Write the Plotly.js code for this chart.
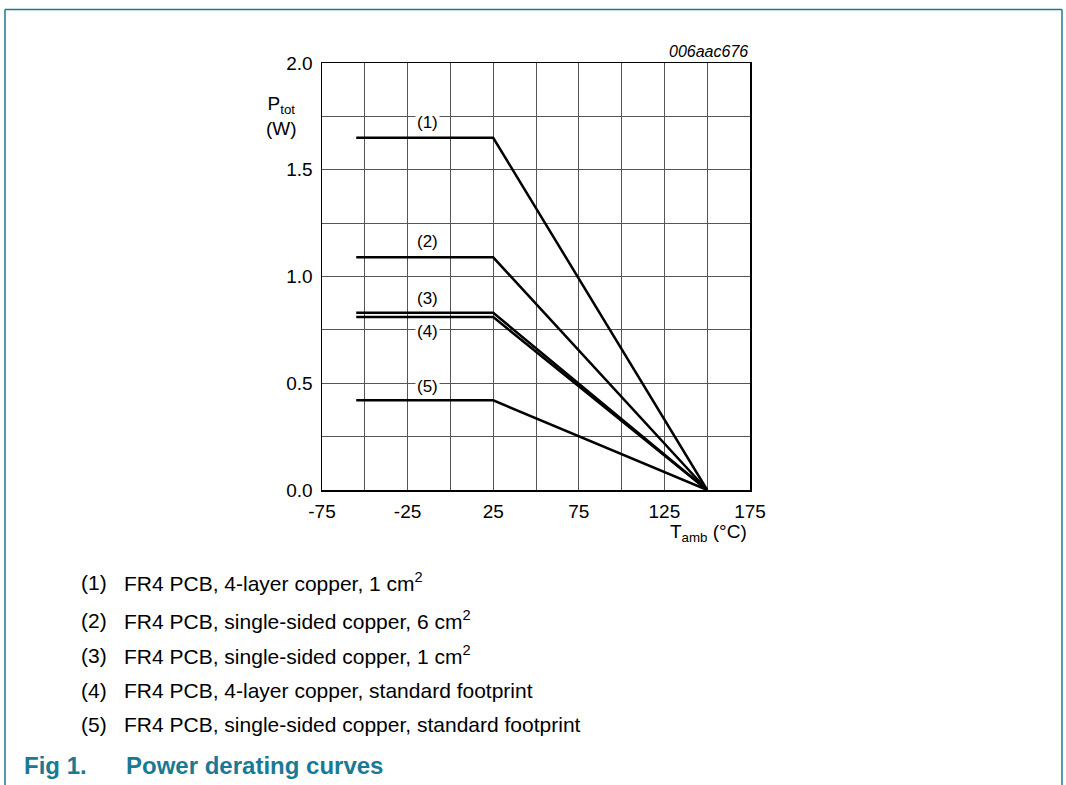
<!DOCTYPE html>
<html><head><meta charset="utf-8">
<script src="https://cdn.plot.ly/plotly-3.0.1.min.js"></script>
<style>html,body{margin:0;padding:0;background:#fff;}#chart{width:1066px;height:785px;}</style>
</head><body><div id="chart"></div>
<script>
// Data
const curveLabels = ['(1)', '(2)', '(3)', '(4)', '(5)'];
const curveTemps = [-55, 25, 150];
const curve1 = [1.65, 1.65, 0];
const curve2 = [1.09, 1.09, 0];
const curve3 = [0.83, 0.83, 0];
const curve4 = [0.81, 0.81, 0];
const curve5 = [0.42, 0.42, 0];
const legendTexts = [
  'FR4 PCB, 4-layer copper, 1 cm<sup>2</sup>',
  'FR4 PCB, single-sided copper, 6 cm<sup>2</sup>',
  'FR4 PCB, single-sided copper, 1 cm<sup>2</sup>',
  'FR4 PCB, 4-layer copper, standard footprint',
  'FR4 PCB, single-sided copper, standard footprint'
];
const xTickVals = [-75, -25, 25, 75, 125, 175];
const xTickText = ['-75', '-25', '25', '75', '125', '175'];
const yTickVals = [0, 0.5, 1.0, 1.5, 2.0];
const yTickText = ['0.0', '0.5', '1.0', '1.5', '2.0'];

const series = [curve1, curve2, curve3, curve4, curve5];
const FONT = 'Liberation Sans, Arial, sans-serif';
const TEAL = '#1b7a93';

const traces = series.map((ys, i) => ({
  x: curveTemps, y: ys, type: 'scatter', mode: 'lines',
  line: {color: '#000', width: 2.5}, name: curveLabels[i], hoverinfo: 'skip'
}));

// plot box in pixels: left 322, right 750, top 63, bottom 490
const L = 322, R = 750, T = 63, B = 490;
const px = x => (x - L) / (R - L);
const py = y => (B - y) / (B - T);

const labelShift = [15, 16, 14, -14, 14];
const annotations = [];
series.forEach((ys, i) => {
  annotations.push({
    x: -13.5, y: ys[0], xref: 'x', yref: 'y', text: curveLabels[i], showarrow: false,
    xanchor: 'center', yanchor: 'middle',
    yshift: labelShift[i], bgcolor: '#fff', borderpad: 1,
    font: {family: FONT, size: 17, color: '#000'}
  });
});
function paperText(x, y, text, size, opts) {
  annotations.push(Object.assign({x: px(x), y: py(y), xref: 'paper', yref: 'paper', showarrow: false,
    xanchor: 'left', yanchor: 'middle', text, font: {family: FONT, size, color: '#000'}}, opts || {}));
}
paperText(281, 116, 'P<sub>tot</sub><br>(W)', 19, {xanchor: 'center', align: 'center'});
paperText(750, 52, '<i>006aac676</i>', 16, {xanchor: 'right'});
paperText(749, 533, 'T<sub>amb</sub> (°C)', 19, {xanchor: 'right'});
const legY = [582, 620, 655, 690, 724];
legendTexts.forEach((t, i) => {
  paperText(79, legY[i], curveLabels[i], 21);
  paperText(122, legY[i], t, 21);
});
paperText(22, 765, '<b>Fig 1.</b>', 24, {font: {family: FONT, size: 24, color: TEAL}});
paperText(124, 765, '<b>Power derating curves</b>', 24, {font: {family: FONT, size: 24, color: TEAL}});

const shapes = [
  {type: 'line', xref: 'paper', yref: 'paper', x0: px(5), x1: px(1062), y0: py(9.5), y1: py(9.5), line: {color: TEAL, width: 1.5}},
  {type: 'line', xref: 'paper', yref: 'paper', x0: px(5), x1: px(5), y0: py(9.5), y1: py(785), line: {color: TEAL, width: 1.5}},
  {type: 'line', xref: 'paper', yref: 'paper', x0: px(1062), x1: px(1062), y0: py(9.5), y1: py(785), line: {color: TEAL, width: 1.5}}
];

const layout = {
  width: 1066, height: 785,
  margin: {l: L, r: 1066 - R, t: T, b: 785 - B, pad: 0},
  paper_bgcolor: '#fff', plot_bgcolor: '#fff', showlegend: false,
  xaxis: {range: [-75, 175], tickvals: xTickVals, ticktext: xTickText, showgrid: true, gridcolor: '#555', gridwidth: 1,
    minor: {dtick: 25, tick0: -75, showgrid: true, gridcolor: '#555', gridwidth: 1},
    zeroline: false, showline: true, linecolor: '#000', linewidth: 1.5, mirror: true,
    ticks: 'outside', ticklen: 4, tickcolor: 'rgba(0,0,0,0)',
    tickfont: {family: FONT, size: 19, color: '#000'}, fixedrange: true},
  yaxis: {range: [0, 2], tickvals: yTickVals, ticktext: yTickText, showgrid: true, gridcolor: '#555', gridwidth: 1,
    minor: {dtick: 0.25, tick0: 0, showgrid: true, gridcolor: '#555', gridwidth: 1},
    zeroline: false, showline: true, linecolor: '#000', linewidth: 1.5, mirror: true,
    ticks: 'outside', ticklen: 4, tickcolor: 'rgba(0,0,0,0)',
    tickfont: {family: FONT, size: 19, color: '#000'}, fixedrange: true},
  annotations, shapes
};
Plotly.newPlot('chart', traces, layout, {displayModeBar: false, staticPlot: true});
</script></body></html>
